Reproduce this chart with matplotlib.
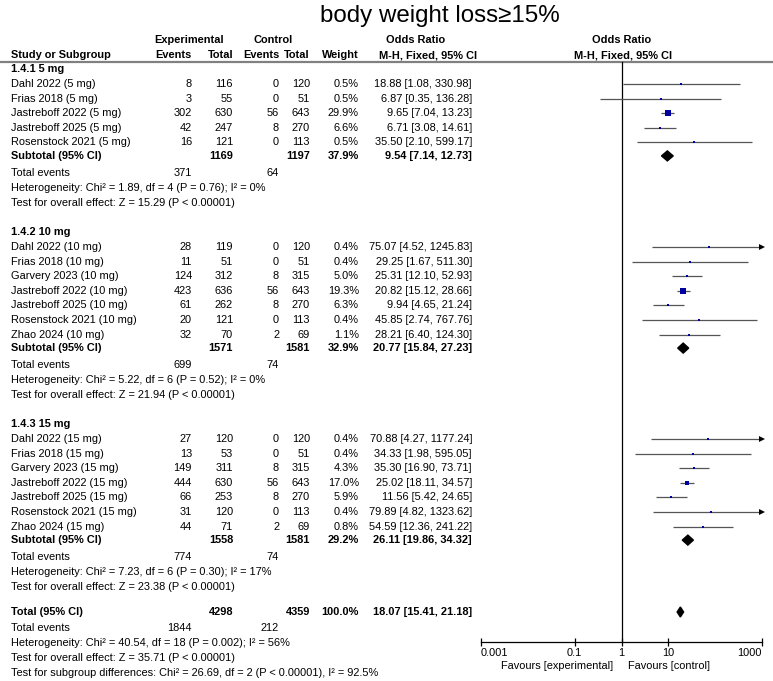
import matplotlib
matplotlib.use('Agg')
import numpy as np
import matplotlib.pyplot as plt
from matplotlib.patches import Polygon
from matplotlib.ticker import NullLocator

plt.rcParams['font.family'] = ['Liberation Sans', 'DejaVu Sans']
plt.rcParams['font.size'] = 7.9

# ---- data ----
group_titles = ['1.4.1 5 mg', '1.4.2 10 mg', '1.4.3 15 mg']

names5 = ['Dahl 2022 (5 mg)', 'Frias 2018 (5 mg)', 'Jastreboff 2022 (5 mg)',
          'Jastreboff 2025 (5 mg)', 'Rosenstock 2021 (5 mg)']
ev_e5 = [8, 3, 302, 42, 16]
tot_e5 = [116, 55, 630, 247, 121]
ev_c5 = [0, 0, 56, 8, 0]
tot_c5 = [120, 51, 643, 270, 113]
wt5 = [0.5, 0.5, 29.9, 6.6, 0.5]
or5 = [18.88, 6.87, 9.65, 6.71, 35.50]
lo5 = [1.08, 0.35, 7.04, 3.08, 2.10]
hi5 = [330.98, 136.28, 13.23, 14.61, 599.17]

names10 = ['Dahl 2022 (10 mg)', 'Frias 2018 (10 mg)', 'Garvery 2023 (10 mg)',
           'Jastreboff 2022 (10 mg)', 'Jastreboff 2025 (10 mg)',
           'Rosenstock 2021 (10 mg)', 'Zhao 2024 (10 mg)']
ev_e10 = [28, 11, 124, 423, 61, 20, 32]
tot_e10 = [119, 51, 312, 636, 262, 121, 70]
ev_c10 = [0, 0, 8, 56, 8, 0, 2]
tot_c10 = [120, 51, 315, 643, 270, 113, 69]
wt10 = [0.4, 0.4, 5.0, 19.3, 6.3, 0.4, 1.1]
or10 = [75.07, 29.25, 25.31, 20.82, 9.94, 45.85, 28.21]
lo10 = [4.52, 1.67, 12.10, 15.12, 4.65, 2.74, 6.40]
hi10 = [1245.83, 511.30, 52.93, 28.66, 21.24, 767.76, 124.30]

names15 = ['Dahl 2022 (15 mg)', 'Frias 2018 (15 mg)', 'Garvery 2023 (15 mg)',
           'Jastreboff 2022 (15 mg)', 'Jastreboff 2025 (15 mg)',
           'Rosenstock 2021 (15 mg)', 'Zhao 2024 (15 mg)']
ev_e15 = [27, 13, 149, 444, 66, 31, 44]
tot_e15 = [120, 53, 311, 630, 253, 120, 71]
ev_c15 = [0, 0, 8, 56, 8, 0, 2]
tot_c15 = [120, 51, 315, 643, 270, 113, 69]
wt15 = [0.4, 0.4, 4.3, 17.0, 5.9, 0.4, 0.8]
or15 = [70.88, 34.33, 35.30, 25.02, 11.56, 79.89, 54.59]
lo15 = [4.27, 1.98, 16.90, 18.11, 5.42, 4.82, 12.36]
hi15 = [1177.24, 595.05, 73.71, 34.57, 24.65, 1323.62, 241.22]

sub_tot_e = [1169, 1571, 1558]
sub_tot_c = [1197, 1581, 1581]
sub_wt = [37.9, 32.9, 29.2]
sub_or = [9.54, 20.77, 26.11]
sub_lo = [7.14, 15.84, 19.86]
sub_hi = [12.73, 27.23, 34.32]
sub_ev_e = [371, 699, 774]
sub_ev_c = [64, 74, 74]
sub_het = ['Heterogeneity: Chi² = 1.89, df = 4 (P = 0.76); I² = 0%',
           'Heterogeneity: Chi² = 5.22, df = 6 (P = 0.52); I² = 0%',
           'Heterogeneity: Chi² = 7.23, df = 6 (P = 0.30); I² = 17%']
sub_z = ['Test for overall effect: Z = 15.29 (P < 0.00001)',
         'Test for overall effect: Z = 21.94 (P < 0.00001)',
         'Test for overall effect: Z = 23.38 (P < 0.00001)']

tot_e_all, tot_c_all, wt_all = 4298, 4359, 100.0
or_all, lo_all, hi_all = 18.07, 15.41, 21.18
ev_e_all, ev_c_all = 1844, 212
het_all = 'Heterogeneity: Chi² = 40.54, df = 18 (P = 0.002); I² = 56%'
z_all = 'Test for overall effect: Z = 35.71 (P < 0.00001)'
subdiff = 'Test for subgroup differences: Chi² = 26.69, df = 2 (P < 0.00001), I² = 92.5%'

ticks = [0.001, 0.1, 1, 10, 1000]
tick_labels = ['0.001', '0.1', '1', '10', '1000']

groups = [
    (names5, ev_e5, tot_e5, ev_c5, tot_c5, wt5, or5, lo5, hi5),
    (names10, ev_e10, tot_e10, ev_c10, tot_c10, wt10, or10, lo10, hi10),
    (names15, ev_e15, tot_e15, ev_c15, tot_c15, wt15, or15, lo15, hi15),
]

# ---- layout (pixels) ----
W, H = 773, 681
group_y = [69, 232, 424]
pitch = 14.6
X_NAME, X_EVE, X_TOTE, X_EVC, X_TOTC, X_WT, X_OR = 11, 192, 233, 279, 310, 359, 472
ci_col = '#555555'
box_col = '#0000a0'

fig = plt.figure(figsize=(W / 100, H / 100), dpi=100)
tab = fig.add_axes([0, 0, 1, 1])
tab.set_xlim(0, W)
tab.set_ylim(H, 0)
tab.axis('off')

px0, px1 = 481, 762
ax = fig.add_axes([px0 / W, 0, (px1 - px0) / W, 1])
ax.set_xscale('log')
ax.set_xlim(0.001, 1000)
ax.set_ylim(H, 0)
ax.patch.set_alpha(0)
for s in ['top', 'right', 'left']:
    ax.spines[s].set_visible(False)
ax.spines['bottom'].set_position(('data', 642))
ax.spines['bottom'].set_linewidth(0.9)
ax.set_yticks([])
ax.set_xticks(ticks)
ax.set_xticklabels(tick_labels)
ax.xaxis.set_minor_locator(NullLocator())
ax.tick_params(axis='x', direction='inout', length=6, width=0.9, pad=1, labelsize=7.9)
tl = ax.get_xticklabels()
tl[0].set_ha('left')
tl[-1].set_ha('right')

# title and header
tab.text(440, 16, 'body weight loss≥15%', ha='center', va='center', fontsize=17.4)
b = dict(fontweight='bold', va='center')
tab.text(189, 40, 'Experimental', ha='center', **b)
tab.text(273.5, 40, 'Control', ha='center', **b)
tab.text(445, 40, 'Odds Ratio', ha='right', **b)
tab.text(622, 40, 'Odds Ratio', ha='center', **b)
tab.text(X_NAME, 55, 'Study or Subgroup', ha='left', **b)
tab.text(192, 55, 'Events', ha='right', **b)
tab.text(233, 55, 'Total', ha='right', **b)
tab.text(279, 55, 'Events', ha='right', **b)
tab.text(310, 55, 'Total', ha='right', **b)
tab.text(359, 55, 'Weight', ha='right', **b)
tab.text(477, 55, 'M-H, Fixed, 95% CI', ha='right', **b)
tab.text(623, 55, 'M-H, Fixed, 95% CI', ha='center', **b)
tab.plot([0, W], [62, 62], color='#808080', lw=1.6)

ax.plot([1, 1], [62, 642], color='black', lw=0.9)


def diamond(est, lo, hi, y, h=5):
    ax.add_patch(Polygon([(lo, y), (est, y - h), (hi, y), (est, y + h)],
                         closed=True, color='black', zorder=4))


def ortxt(est, lo, hi):
    return f'{est:.2f} [{lo:.2f}, {hi:.2f}]'


for g, (names, eve, tote, evc, totc, wt, orv, lo, hi) in enumerate(groups):
    y0 = group_y[g]
    tab.text(X_NAME, y0, group_titles[g], ha='left', **b)
    y = y0
    for i in range(len(names)):
        y = y0 + 15 + i * pitch
        tab.text(X_NAME, y, names[i], ha='left', va='center')
        tab.text(X_EVE, y, str(eve[i]), ha='right', va='center')
        tab.text(X_TOTE, y, str(tote[i]), ha='right', va='center')
        tab.text(X_EVC, y, str(evc[i]), ha='right', va='center')
        tab.text(X_TOTC, y, str(totc[i]), ha='right', va='center')
        tab.text(X_WT, y, f'{wt[i]:.1f}%', ha='right', va='center')
        tab.text(X_OR, y, ortxt(orv[i], lo[i], hi[i]), ha='right', va='center')
        right = min(hi[i], 1000)
        ax.plot([lo[i], right], [y, y], color=ci_col, lw=0.9, solid_capstyle='butt')
        if hi[i] > 1000:
            ax.plot([1000], [y], marker='>', ms=4.5, color='black', clip_on=False,
                    markeredgewidth=0)
        side = max(1.6, 6.3 * np.sqrt(wt[i] / 29.9)) * 0.72
        ax.scatter([orv[i]], [y], marker='s', s=side ** 2, color=box_col,
                   linewidths=0, zorder=3)
    ys = y + 13.5
    tab.text(X_NAME, ys, 'Subtotal (95% CI)', ha='left', **b)
    tab.text(X_TOTE, ys, str(sub_tot_e[g]), ha='right', **b)
    tab.text(X_TOTC, ys, str(sub_tot_c[g]), ha='right', **b)
    tab.text(X_WT, ys, f'{sub_wt[g]:.1f}%', ha='right', **b)
    tab.text(X_OR, ys, ortxt(sub_or[g], sub_lo[g], sub_hi[g]), ha='right', **b)
    diamond(sub_or[g], sub_lo[g], sub_hi[g], ys)
    tab.text(X_NAME, ys + 17, 'Total events', ha='left', va='center')
    tab.text(X_EVE, ys + 17, str(sub_ev_e[g]), ha='right', va='center')
    tab.text(X_EVC, ys + 17, str(sub_ev_c[g]), ha='right', va='center')
    tab.text(X_NAME, ys + 32, sub_het[g], ha='left', va='center')
    tab.text(X_NAME, ys + 47, sub_z[g], ha='left', va='center')

# overall
yt = 612
tab.text(X_NAME, yt, 'Total (95% CI)', ha='left', **b)
tab.text(X_TOTE, yt, str(tot_e_all), ha='right', **b)
tab.text(X_TOTC, yt, str(tot_c_all), ha='right', **b)
tab.text(X_WT, yt, f'{wt_all:.1f}%', ha='right', **b)
tab.text(X_OR, yt, ortxt(or_all, lo_all, hi_all), ha='right', **b)
diamond(or_all, lo_all, hi_all, yt)
tab.text(X_NAME, yt + 16, 'Total events', ha='left', va='center')
tab.text(X_EVE, yt + 16, str(ev_e_all), ha='right', va='center')
tab.text(X_EVC, yt + 16, str(ev_c_all), ha='right', va='center')
tab.text(X_NAME, yt + 31, het_all, ha='left', va='center')
tab.text(X_NAME, yt + 46, z_all, ha='left', va='center')
tab.text(X_NAME, yt + 61, subdiff, ha='left', va='center')

tab.text(613, 666, 'Favours [experimental]', ha='right', va='center')
tab.text(628, 666, 'Favours [control]', ha='left', va='center')

fig.savefig('out.png', dpi=100)
